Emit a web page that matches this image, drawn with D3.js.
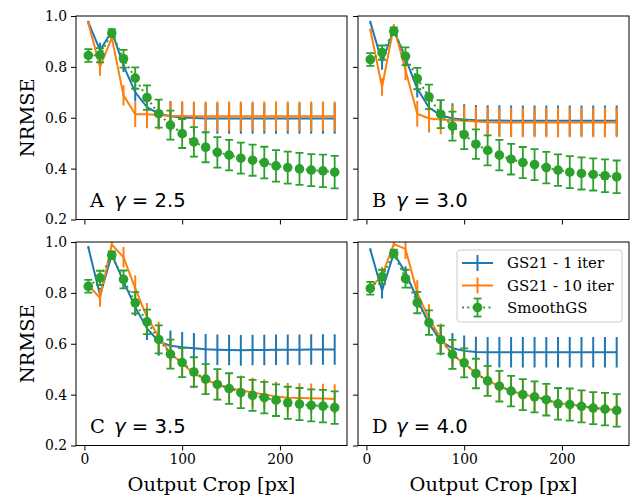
<!DOCTYPE html>
<html>
<head>
<meta charset="utf-8">
<script src="https://cdn.jsdelivr.net/npm/d3@7"></script>
<style>
  html, body { margin: 0; padding: 0; background: #fff; }
  svg { display: block; }
  text { font-family: "DejaVu Serif", serif; fill: #000; }
</style>
</head>
<body>
<svg id="chart" width="633" height="498"></svg>
<script>
// ---------------- data ----------------
const crops = [4, 16, 28, 40, 52, 64, 76, 88, 100, 112, 124, 136, 148, 160, 172, 184, 196, 208, 220, 232, 244, 256];
const xTicks = [0, 100, 200];
const yTicks = [0.2, 0.4, 0.6, 0.8, 1.0];
const seriesNames = ["GS21 - 1 iter", "GS21 - 10 iter", "SmoothGS"];
const panelLetters = ["A", "B", "C", "D"];
const gammas = ["2.5", "3.0", "3.5", "4.0"];

// panel A (gamma 2.5)
const gs1A  = [0.976, 0.865, 0.940, 0.805, 0.700, 0.642, 0.616, 0.606, 0.601, 0.599, 0.597, 0.597, 0.597, 0.597, 0.597, 0.597, 0.597, 0.597, 0.597, 0.597, 0.597, 0.597];
const gs10A = [0.972, 0.800, 0.915, 0.688, 0.614, 0.614, 0.611, 0.608, 0.607, 0.606, 0.606, 0.606, 0.606, 0.606, 0.606, 0.606, 0.606, 0.606, 0.606, 0.606, 0.606, 0.606];
const smA   = [0.845, 0.846, 0.933, 0.832, 0.756, 0.679, 0.616, 0.571, 0.538, 0.505, 0.484, 0.464, 0.453, 0.441, 0.433, 0.424, 0.411, 0.404, 0.399, 0.394, 0.391, 0.386];
// panel B (gamma 3.0)
const gs1B  = [0.976, 0.819, 0.946, 0.832, 0.715, 0.640, 0.610, 0.597, 0.593, 0.590, 0.589, 0.589, 0.588, 0.588, 0.588, 0.588, 0.588, 0.588, 0.588, 0.588, 0.588, 0.588];
const gs10B = [0.946, 0.721, 0.959, 0.787, 0.616, 0.597, 0.593, 0.590, 0.588, 0.585, 0.582, 0.581, 0.581, 0.581, 0.581, 0.581, 0.581, 0.581, 0.581, 0.581, 0.581, 0.581];
const smB   = [0.829, 0.856, 0.940, 0.842, 0.754, 0.682, 0.614, 0.567, 0.534, 0.496, 0.472, 0.453, 0.437, 0.424, 0.416, 0.404, 0.394, 0.386, 0.381, 0.377, 0.372, 0.368];
// panel C (gamma 3.5)
const gs1C  = [0.979, 0.790, 0.950, 0.845, 0.744, 0.660, 0.608, 0.592, 0.586, 0.582, 0.578, 0.576, 0.575, 0.574, 0.575, 0.575, 0.576, 0.576, 0.576, 0.577, 0.577, 0.577];
const gs10C = [0.830, 0.780, 0.990, 0.940, 0.818, 0.705, 0.628, 0.562, 0.522, 0.483, 0.459, 0.440, 0.426, 0.417, 0.408, 0.401, 0.393, 0.388, 0.387, 0.386, 0.385, 0.383];
const smC   = [0.826, 0.859, 0.948, 0.853, 0.761, 0.686, 0.617, 0.559, 0.526, 0.489, 0.461, 0.440, 0.424, 0.408, 0.397, 0.388, 0.378, 0.368, 0.363, 0.358, 0.355, 0.349];
// panel D (gamma 4.0)
const gs1D  = [0.970, 0.808, 0.955, 0.880, 0.775, 0.680, 0.610, 0.582, 0.572, 0.568, 0.567, 0.567, 0.567, 0.567, 0.567, 0.567, 0.567, 0.567, 0.567, 0.567, 0.567, 0.567];
const gs10D = [0.820, 0.868, 0.992, 0.973, 0.800, 0.700, 0.622, 0.556, 0.523, 0.484, 0.455, 0.434, 0.415, 0.401, 0.392, 0.381, 0.366, 0.362, 0.355, 0.348, 0.344, 0.339];
const smD   = [0.818, 0.863, 0.955, 0.856, 0.762, 0.683, 0.616, 0.558, 0.525, 0.483, 0.454, 0.433, 0.414, 0.400, 0.391, 0.380, 0.364, 0.361, 0.354, 0.347, 0.343, 0.338];

// error bar half-widths (shared across panels)
const errGS1  = [0.005, 0.030, 0.010, 0.025, 0.035, 0.045, 0.055, 0.060, 0.060, 0.060, 0.060, 0.060, 0.060, 0.060, 0.060, 0.060, 0.060, 0.060, 0.060, 0.060, 0.060, 0.060];
const errGS10 = [0.005, 0.035, 0.010, 0.040, 0.050, 0.055, 0.058, 0.058, 0.058, 0.058, 0.058, 0.058, 0.058, 0.058, 0.058, 0.058, 0.058, 0.058, 0.058, 0.058, 0.058, 0.058];
const errSm   = [0.025, 0.028, 0.015, 0.035, 0.042, 0.048, 0.055, 0.057, 0.057, 0.058, 0.059, 0.060, 0.060, 0.061, 0.061, 0.062, 0.062, 0.063, 0.063, 0.063, 0.064, 0.064];

const panelSeries = [
  [gs1A, gs10A, smA],
  [gs1B, gs10B, smB],
  [gs1C, gs10C, smC],
  [gs1D, gs10D, smD]
];

// ---------------- layout ----------------
const colors = ["#1f77b4", "#ff7f0e", "#2ca02c"];
const lefts = [76, 358];
const tops = [16, 242];
const axW = 271, axH = 203.5;
const xDomain = [-8.6, 268.6];
const yDomain = [0.2, 1.0];

const svg = d3.select("#chart");
const defs = svg.append("defs");

panelSeries.forEach((ser, i) => {
  const col = i % 2, row = Math.floor(i / 2);
  const L = lefts[col], T = tops[row];
  const x = d3.scaleLinear().domain(xDomain).range([L, L + axW]);
  const y = d3.scaleLinear().domain(yDomain).range([T + axH, T]);
  const g = svg.append("g");

  defs.append("clipPath").attr("id", "clip" + i)
    .append("rect").attr("x", L).attr("y", T).attr("width", axW).attr("height", axH);

  // axes
  const yAxis = d3.axisLeft(y).tickValues(yTicks).tickSize(5).tickPadding(4)
    .tickFormat(col === 0 ? d3.format(".1f") : () => "");
  const xAxis = d3.axisBottom(x).tickValues(xTicks).tickSize(5).tickPadding(4)
    .tickFormat(row === 1 ? d3.format("d") : () => "");
  const ya = g.append("g").attr("transform", `translate(${L},0)`).call(yAxis);
  const xa = g.append("g").attr("transform", `translate(0,${T + axH})`).call(xAxis);
  [ya, xa].forEach(a => {
    a.select(".domain").remove();
    a.selectAll("line").attr("stroke", "#000").attr("stroke-width", 1);
    a.selectAll("text").style("font-family", "'DejaVu Serif', serif").style("font-size", "13.9px").attr("fill", "#000");
  });

  const plot = g.append("g").attr("clip-path", `url(#clip${i})`);
  const line = d3.line().x((d, k) => x(crops[k])).y(d => y(d));
  const errs = [errGS1, errGS10, errSm];

  ser.forEach((vals, s) => {
    const e = errs[s];
    if (s < 2) {
      plot.append("path").datum(vals).attr("d", line)
        .attr("fill", "none").attr("stroke", colors[s]).attr("stroke-width", 2);
      plot.selectAll(null).data(vals).enter().append("line")
        .attr("x1", (d, k) => x(crops[k])).attr("x2", (d, k) => x(crops[k]))
        .attr("y1", (d, k) => y(d - e[k])).attr("y2", (d, k) => y(d + e[k]))
        .attr("stroke", colors[s]).attr("stroke-width", 2);
    } else {
      const eb = plot.selectAll(null).data(vals).enter().append("g");
      eb.append("line")
        .attr("x1", (d, k) => x(crops[k])).attr("x2", (d, k) => x(crops[k]))
        .attr("y1", (d, k) => y(d - e[k])).attr("y2", (d, k) => y(d + e[k]))
        .attr("stroke", colors[s]).attr("stroke-width", 1.8);
      [-1, 1].forEach(sg => {
        eb.append("line")
          .attr("x1", (d, k) => x(crops[k]) - 4).attr("x2", (d, k) => x(crops[k]) + 4)
          .attr("y1", (d, k) => y(d + sg * e[k])).attr("y2", (d, k) => y(d + sg * e[k]))
          .attr("stroke", colors[s]).attr("stroke-width", 1.8);
      });
      plot.append("path").datum(vals).attr("d", line)
        .attr("fill", "none").attr("stroke", colors[s]).attr("stroke-width", 2)
        .attr("stroke-dasharray", "2,3.3");
      plot.selectAll(null).data(vals).enter().append("circle")
        .attr("cx", (d, k) => x(crops[k])).attr("cy", d => y(d)).attr("r", 4.8)
        .attr("fill", colors[s]);
    }
  });

  // frame
  g.append("rect").attr("x", L).attr("y", T).attr("width", axW).attr("height", axH)
    .attr("fill", "none").attr("stroke", "#000").attr("stroke-width", 1);

  // panel label
  g.append("text").attr("x", L + 14).attr("y", T + axH - 12.5)
    .style("font-size", "19.4px").text(panelLetters[i]);
  const gt = g.append("text").attr("x", L + 38).attr("y", T + axH - 12.5)
    .style("font-family", "'DejaVu Sans', sans-serif").style("font-size", "19.6px");
  gt.append("tspan").style("font-style", "italic").text("γ");
  gt.append("tspan").text(" = " + gammas[i]);

  // y label
  if (col === 0) {
    g.append("text")
      .attr("transform", `translate(${34},${T + axH / 2}) rotate(-90)`)
      .attr("text-anchor", "middle").style("font-size", "19.4px").text("NRMSE");
  }
  // x label
  if (row === 1) {
    g.append("text").attr("x", L + axW / 2).attr("y", T + axH + 45)
      .attr("text-anchor", "middle").style("font-size", "19.4px").text("Output Crop [px]");
  }

  // legend in panel D
  if (i === 3) {
    const lg = g.append("g");
    lg.append("rect").attr("x", 457).attr("y", 250).attr("width", 165).attr("height", 72)
      .attr("rx", 3).attr("fill", "#fff").attr("fill-opacity", 0.8)
      .attr("stroke", "#cccccc").attr("stroke-width", 1);
    const rowsY = [263, 285.5, 307.5];
    seriesNames.forEach((name, s) => {
      const yy = rowsY[s];
      const hx0 = 462, hx1 = 493, hc = 477.5;
      if (s < 2) {
        lg.append("line").attr("x1", hx0).attr("x2", hx1).attr("y1", yy).attr("y2", yy)
          .attr("stroke", colors[s]).attr("stroke-width", 2);
        lg.append("line").attr("x1", hc).attr("x2", hc).attr("y1", yy - 8).attr("y2", yy + 8)
          .attr("stroke", colors[s]).attr("stroke-width", 2);
      } else {
        lg.append("line").attr("x1", hx0).attr("x2", hx1).attr("y1", yy).attr("y2", yy)
          .attr("stroke", colors[s]).attr("stroke-width", 2).attr("stroke-dasharray", "2,3.3");
        lg.append("line").attr("x1", hc).attr("x2", hc).attr("y1", yy - 9).attr("y2", yy + 9)
          .attr("stroke", colors[s]).attr("stroke-width", 1.8);
        [-9, 9].forEach(dy => lg.append("line").attr("x1", hc - 4).attr("x2", hc + 4)
          .attr("y1", yy + dy).attr("y2", yy + dy).attr("stroke", colors[s]).attr("stroke-width", 1.8));
        lg.append("circle").attr("cx", hc).attr("cy", yy).attr("r", 4.8).attr("fill", colors[s]);
      }
      lg.append("text").attr("x", 507).attr("y", yy + 5.3).style("font-size", "15px").text(name);
    });
  }
});
</script>
</body>
</html>
